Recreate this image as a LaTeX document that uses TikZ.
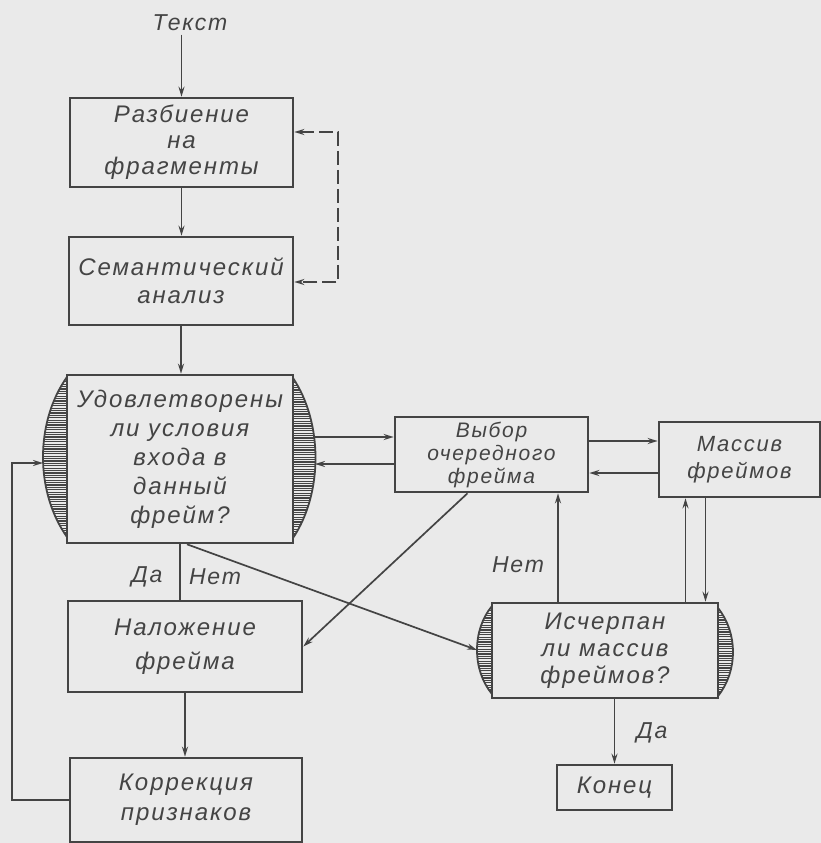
\documentclass[tikz,border=0pt]{standalone}
\usepackage{fontspec}
\newfontfamily\gost[LetterSpace=8]{Liberation Sans}
\usetikzlibrary{positioning}
\usetikzlibrary{calc}
\usetikzlibrary{arrows.meta}
\definecolor{ink}{RGB}{68,68,68}
\definecolor{paper}{RGB}{234,234,234}

% hatched side of a decision box: chord x, top y, bottom y, control x, control y1, control y2
\newcommand{\hatchlens}[6]{%
  \begin{scope}
    \clip (#1,#2) .. controls (#4,#5) and (#4,#6) .. (#1,#3) -- cycle;
    \foreach \k in {0,...,75}
      \draw[ink, line width=1.1pt] (#1-40,{#2+2.4*\k}) -- (#1+40,{#2+2.4*\k});
  \end{scope}
  \draw[ink, line width=1.8pt] (#1,#2) .. controls (#4,#5) and (#4,#6) .. (#1,#3);}

\begin{document}
\begin{tikzpicture}[x=1pt,y=-1pt,
    box/.style={draw=ink, line width=2.6pt, inner sep=0pt, align=center, text=ink},
    arr/.style={draw=ink, line width=1.7pt, -{Stealth[length=10pt,width=6pt]}},
    lbl/.style={text=ink, font=\gost\itshape\fontsize{23}{26}\selectfont}]
	% Paper
	\fill[paper] (0,0) rectangle (821,843);
	\useasboundingbox (0,0) rectangle (821,843);

	% Left column
	\node[lbl] (tekst) at (190,23) {Текст};
	\node[box, minimum width=223pt, minimum height=89pt,
	      font=\gost\itshape\fontsize{24}{26}\selectfont] (razb) at (181.5,142.5) {Разбиение\\на\\фрагменты};
	\node[box, minimum width=224pt, minimum height=88pt,
	      font=\gost\itshape\fontsize{24}{28}\selectfont] (sem) at (181,281) {Семантический\\анализ};
	\node[box, minimum width=226pt, minimum height=168pt,
	      font=\gost\itshape\fontsize{24}{29}\selectfont] (cond) at (180,459) {Удовлетворены\\ли условия\\входа в\\данный\\фрейм?};
	\node[box, minimum width=234pt, minimum height=91pt,
	      font=\gost\itshape\fontsize{24}{34}\selectfont] (nalozh) at (185,646.5) {Наложение\\фрейма};
	\node[box, minimum width=232pt, minimum height=84pt,
	      font=\gost\itshape\fontsize{24}{30}\selectfont] (korr) at (186,800) {Коррекция\\признаков};

	% Right part
	\node[box, minimum width=193pt, minimum height=75pt,
	      font=\gost\itshape\fontsize{21}{23}\selectfont] (vybor) at (491.5,454.5) {Выбор\\очередного\\фрейма};
	\node[box, minimum width=161pt, minimum height=75pt,
	      font=\gost\itshape\fontsize{22}{27}\selectfont] (massiv) at (739.5,459.5) {Массив\\фреймов};
	\node[box, minimum width=226pt, minimum height=95pt,
	      font=\gost\itshape\fontsize{24}{27}\selectfont] (ischerp) at (605,650.5) {Исчерпан\\ли массив\\фреймов?};
	\node[box, minimum width=115pt, minimum height=45pt,
	      font=\gost\itshape\fontsize{24}{26}\selectfont] (konec) at (614.5,787.5) {Конец};

	% Hatched sides
	\hatchlens{67}{377}{537}{35}{422}{492}
	\hatchlens{293}{378}{538}{323}{423}{493}
	\hatchlens{492}{606}{694}{472}{630}{670}
	\hatchlens{718}{608}{696}{738}{633}{671}
	\coordinate (condin) at (43,463);
	\coordinate (condout) at (314,437);
	\coordinate (condback) at (315,464);
	\coordinate (ischin) at (477,650);

	% Main flow
	\draw[arr] (razb.north |- tekst.south) -- (razb.north);
	\draw[arr] (razb.south) -- (razb.south |- sem.north);
	\draw[arr] (sem.south) -- (sem.south |- cond.north);
	\draw[ink, line width=1.7pt] (cond.south) -- (cond.south |- nalozh.north);
	\draw[arr] (nalozh.south) -- (nalozh.south |- korr.north);
	\draw[arr] (korr.west) -- ++(-57,0) |- (condin);

	% Dashed return
	\draw[ink, line width=1.7pt, dash pattern=on 14pt off 5pt,
	      {Stealth[length=10pt,width=6pt]}-{Stealth[length=10pt,width=6pt]}]
	      ([yshift=10.5pt]razb.east) -- ++(44,0) |- ([yshift=-1pt]sem.east);

	% Frame choice
	\draw[arr] (condout) -- (condout -| vybor.west);
	\draw[arr] (vybor.west |- condback) -- (condback);
	\draw[arr] ([yshift=13.5pt]vybor.east) -- ([yshift=13.5pt]vybor.east -| massiv.west);
	\draw[arr] ([yshift=-13.5pt]massiv.west) -- ([yshift=-13.5pt]massiv.west -| vybor.east);
	\draw[arr] ([xshift=-24pt]vybor.south) -- (nalozh.east);
	\draw[arr] ([xshift=7pt]cond.south) -- (ischin);
	\draw[arr] ([xshift=-47pt]ischerp.north) -- ([xshift=-47pt]ischerp.north |- vybor.south);
	\draw[arr] ([xshift=-54pt]massiv.south |- ischerp.north) -- ([xshift=-54pt]massiv.south);
	\draw[arr] ([xshift=-34pt]massiv.south) -- ([xshift=-34pt]massiv.south |- ischerp.north);
	\draw[arr] (ischerp.south -| konec.north) -- (konec.north);

	% Labels
	\node[lbl] (da1) at (147,577) {Да};
	\node[lbl] (net1) at (215,577) {Нет};
	\node[lbl] (net2) at (518,565) {Нет};
	\node[lbl] (da2) at (652,733) {Да};
\end{tikzpicture}
\end{document}
